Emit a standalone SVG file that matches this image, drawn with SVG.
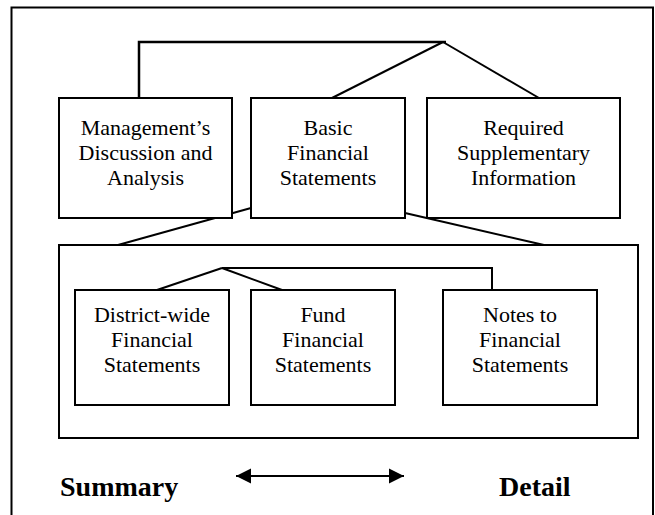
<svg xmlns="http://www.w3.org/2000/svg" width="655" height="515" viewBox="0 0 655 515">
<style>
.box{fill:#fff;stroke:#000;stroke-width:2}
.ln{fill:none;stroke:#000;stroke-width:2}
.t{font-family:"Liberation Serif","Times New Roman",serif;font-size:22px;text-anchor:middle;fill:#000}
.b{font-family:"Liberation Serif","Times New Roman",serif;font-size:28px;font-weight:bold;fill:#000}
</style>
<defs>
<marker id="ah" viewBox="0 0 10 10" refX="10" refY="5" markerWidth="15" markerHeight="16" markerUnits="userSpaceOnUse" orient="auto-start-reverse"><path d="M0,0 L10,5 L0,10 z" fill="#000"/></marker>
</defs>
<rect width="655" height="515" fill="#fff"/>
<path d="M11.5,520 V7.5 H653 V520" class="ln"/>
<g id="group"><rect x="59" y="245" width="579" height="193" class="box" style="fill:none"/></g>
<g id="connectors">
<polyline points="139,98 139,42 446,42" class="ln" style="stroke-width:2.5"/>
<line x1="443" y1="42" x2="332" y2="98" class="ln"/>
<line x1="443" y1="42" x2="539" y2="98" class="ln"/>
<line x1="251" y1="208" x2="118" y2="245" class="ln"/>
<line x1="405" y1="213" x2="544" y2="245" class="ln"/>
<line x1="222" y1="268" x2="157" y2="290" class="ln"/>
<line x1="222" y1="268" x2="282" y2="290" class="ln"/>
<polyline points="222,268 492,268 492,290" class="ln"/>
<line x1="236" y1="476" x2="404" y2="476" class="ln" marker-start="url(#ah)" marker-end="url(#ah)"/>
</g>
<g id="mda"><rect x="59" y="98" width="173" height="120" class="box"/>
<text class="t" x="145.5" y="135">Management’s</text><text class="t" x="145.5" y="160">Discussion and</text><text class="t" x="145.5" y="185">Analysis</text></g>
<g id="bfs"><rect x="251" y="98" width="154" height="120" class="box"/>
<text class="t" x="328" y="135">Basic</text><text class="t" x="328" y="160">Financial</text><text class="t" x="328" y="185">Statements</text></g>
<g id="rsi"><rect x="427" y="98" width="193" height="120" class="box"/>
<text class="t" x="523.5" y="135">Required</text><text class="t" x="523.5" y="160">Supplementary</text><text class="t" x="523.5" y="185">Information</text></g>
<g id="dw"><rect x="75" y="290" width="154" height="115" class="box"/>
<text class="t" x="152" y="322">District-wide</text><text class="t" x="152" y="347">Financial</text><text class="t" x="152" y="372">Statements</text></g>
<g id="fund"><rect x="251" y="290" width="144" height="115" class="box"/>
<text class="t" x="323" y="322">Fund</text><text class="t" x="323" y="347">Financial</text><text class="t" x="323" y="372">Statements</text></g>
<g id="notes"><rect x="443" y="290" width="154" height="115" class="box"/>
<text class="t" x="520" y="322">Notes to</text><text class="t" x="520" y="347">Financial</text><text class="t" x="520" y="372">Statements</text></g>
<g id="legend">
<text class="b" x="60" y="496">Summary</text>
<text class="b" x="499" y="496">Detail</text>
</g>
</svg>
